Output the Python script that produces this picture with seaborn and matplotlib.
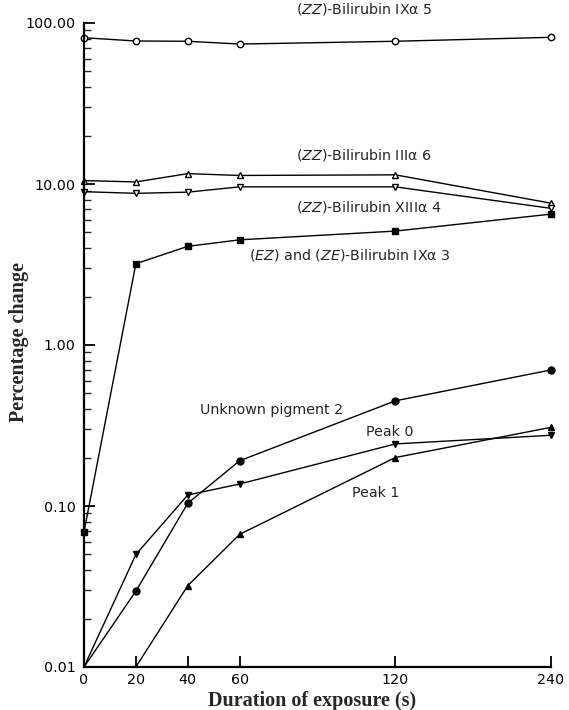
import numpy as np
import pandas as pd
import matplotlib
matplotlib.use("Agg")
import matplotlib.pyplot as plt
import seaborn as sns
from matplotlib.ticker import FixedLocator, FixedFormatter, LogLocator, NullLocator

# ---------------- data ----------------
durations = [0, 20, 40, 60, 120, 240]
zz_ix5 = [81, 77.3, 77, 74, 77, 81.5]
zz_iii6 = [10.5, 10.3, 11.6, 11.3, 11.4, 7.6]
zz_xiii4 = [8.96, 8.75, 8.9, 9.6, 9.6, 7.06]
ez_ze3 = [0.069, 3.2, 4.1, 4.5, 5.1, 6.5]
unknown2 = [0.01, 0.0296, 0.104, 0.191, 0.45, 0.70]
peak0 = [0.01, 0.050, 0.117, 0.137, 0.243, 0.275]
peak1_durations = [20, 40, 60, 120, 240]
peak1 = [0.01, 0.032, 0.0667, 0.2, 0.308]

x_ticks = [0, 20, 40, 60, 120, 240]
x_tick_labels = ["0", "20", "40", "60", "120", "240"]
y_ticks = [0.01, 0.1, 1, 10, 100]
y_tick_labels = ["0.01", "0.10", "1.00", "10.00", "100.00"]

# ---------------- style ----------------
sns.set_style("ticks")
plt.rcParams["font.family"] = ["DejaVu Sans"]
plt.rcParams["mathtext.fontset"] = "custom"
plt.rcParams["mathtext.rm"] = "DejaVu Sans"
plt.rcParams["mathtext.it"] = "DejaVu Sans:italic"

fig = plt.figure(figsize=(5.69, 7.10), dpi=100)
ax = fig.add_axes([84 / 569, 1 - 667 / 710, (551 - 84) / 569, (667 - 23) / 710])

# piecewise axis: 0-60 s evenly spaced, then 120 and 240
scale_pts = np.array([0, 20, 40, 60, 120, 240], dtype=float)
scale_pos = np.array([0, 1, 2, 3, 6, 9], dtype=float)


def fwd(x):
    return np.interp(np.asarray(x, dtype=float), scale_pts, scale_pos)


def inv(p):
    return np.interp(np.asarray(p, dtype=float), scale_pos, scale_pts)


ax.set_xscale("function", functions=(fwd, inv))
ax.set_yscale("log")

floor = 0.01
series = [
    (durations, zz_ix5, "o", "white", 4.6),
    (durations, zz_iii6, "^", "white", 4.0),
    (durations, zz_xiii4, "v", "white", 4.0),
    (durations, ez_ze3, "s", "black", 3.8),
    (durations, unknown2, "o", "black", 5.0),
    (durations, peak0, "v", "black", 3.8),
    (peak1_durations, peak1, "^", "black", 3.8),
]
for xs, ys, mk, fc, ms in series:
    df = pd.DataFrame({"t": xs, "v": ys})
    # points sitting on the lower axis limit are drawn without a marker
    every = [i for i, v in enumerate(ys) if v > floor]
    sns.lineplot(data=df, x="t", y="v", ax=ax, color="black", lw=1.0,
                 marker=mk, markerfacecolor=fc, markeredgecolor="black",
                 markeredgewidth=1.0, markersize=ms, clip_on=False,
                 markevery=every, legend=False)

ax.set_xlim(0, 240)
ax.set_ylim(0.01, 100)

ax.xaxis.set_major_locator(FixedLocator(x_ticks))
ax.xaxis.set_major_formatter(FixedFormatter(x_tick_labels))
ax.xaxis.set_minor_locator(NullLocator())
ax.yaxis.set_major_locator(FixedLocator(y_ticks))
ax.yaxis.set_major_formatter(FixedFormatter(y_tick_labels))
ax.yaxis.set_minor_locator(LogLocator(base=10, subs=np.arange(2, 10)))

ax.tick_params(axis="both", which="major", direction="in", length=8,
               width=1.3, labelsize=10.3, colors="black")
ax.tick_params(axis="y", which="major", pad=6)
ax.tick_params(axis="x", which="major", pad=4)
ax.tick_params(axis="y", which="minor", direction="in", length=5, width=1.0)

for s in ["top", "right"]:
    ax.spines[s].set_visible(False)
for s in ["left", "bottom"]:
    ax.spines[s].set_linewidth(1.6)
    ax.spines[s].set_color("black")

ax.set_xlabel("")
ax.set_ylabel("")

fs = 10.3
ax.text(0.454, 1.0217, r"($\mathit{ZZ}$)-Bilirubin IXα 5", transform=ax.transAxes,
        ha="left", va="center", fontsize=fs)
ax.text(0.454, 0.795, r"($\mathit{ZZ}$)-Bilirubin IIIα 6", transform=ax.transAxes,
        ha="left", va="center", fontsize=fs)
ax.text(0.454, 0.715, r"($\mathit{ZZ}$)-Bilirubin XIIIα 4", transform=ax.transAxes,
        ha="left", va="center", fontsize=fs)
ax.text(0.353, 0.640, r"($\mathit{EZ}$) and ($\mathit{ZE}$)-Bilirubin IXα 3",
        transform=ax.transAxes, ha="left", va="center", fontsize=fs)
ax.text(0.248, 0.399, "Unknown pigment 2", transform=ax.transAxes,
        ha="left", va="center", fontsize=fs)
ax.text(0.604, 0.365, "Peak 0", transform=ax.transAxes,
        ha="left", va="center", fontsize=fs)
ax.text(0.574, 0.270, "Peak 1", transform=ax.transAxes,
        ha="left", va="center", fontsize=fs)

fig.text(19 / 569, 1 - 342 / 710, "Percentage change", rotation=90,
         ha="center", va="center", fontsize=14.5, fontweight="bold",
         family="Liberation Serif")
fig.text(312 / 569, 1 - 701 / 710, "Duration of exposure (s)",
         ha="center", va="center", fontsize=14.5, fontweight="bold",
         family="Liberation Serif")

fig.savefig("out.png", dpi=100)
